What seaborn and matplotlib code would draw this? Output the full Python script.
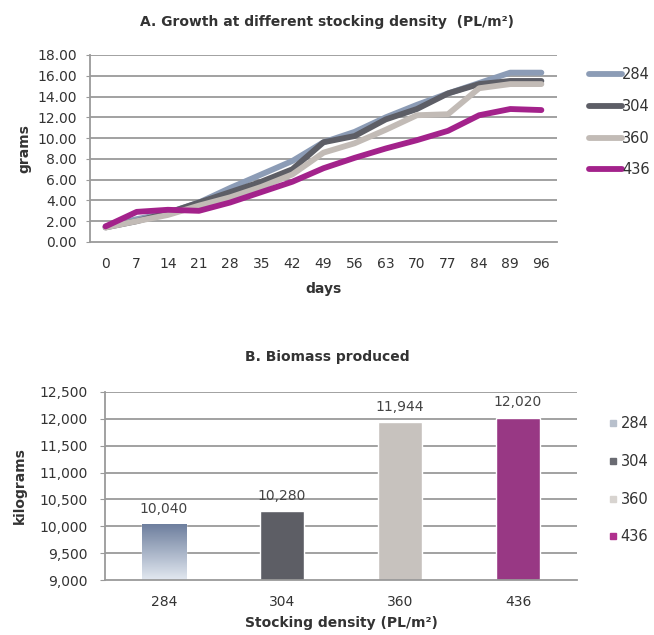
import matplotlib
matplotlib.use('Agg')
import matplotlib.pyplot as plt
from matplotlib.lines import Line2D
from matplotlib.ticker import FuncFormatter, FixedLocator
import numpy as np
import pandas as pd
import seaborn as sns

# дані з графіка (оцінені по картинці)
days = ['0', '7', '14', '21', '28', '35', '42', '49', '56', '63', '70', '77', '84', '89', '96']
g284 = [1.5, 2.2, 2.8, 3.8, 5.2, 6.5, 7.8, 9.6, 10.6, 12.0, 13.2, 14.3, 15.3, 16.3, 16.3]
g304 = [1.4, 2.0, 2.8, 3.8, 4.8, 5.8, 7.0, 9.6, 10.2, 11.8, 12.8, 14.3, 15.2, 15.5, 15.5]
g360 = [1.4, 2.0, 2.6, 3.5, 4.3, 5.3, 6.5, 8.6, 9.5, 10.8, 12.2, 12.3, 14.8, 15.2, 15.2]
g436 = [1.5, 2.9, 3.1, 3.0, 3.8, 4.8, 5.8, 7.1, 8.1, 9.0, 9.8, 10.7, 12.2, 12.8, 12.7]

densities = ['284', '304', '360', '436']
biomass = [10040, 10280, 11944, 12020]

line_colors = ['#8c9cb6', '#5d5e66', '#c2bbb6', '#a3228b']
bar_colors = ['#7c8ca8', '#5c5d66', '#c9c2bc', '#a8288e']
legend_sq = ['#b8c0cc', '#6a6b72', '#d8d4d0', '#b0308e']

sns.set_style('white')
plt.rcParams['font.family'] = ['DejaVu Sans']
plt.rcParams['text.color'] = '#333333'
plt.rcParams['axes.labelcolor'] = '#333333'
plt.rcParams['xtick.color'] = '#333333'
plt.rcParams['ytick.color'] = '#333333'

grid_c = '#9a9a9a'

df = pd.DataFrame({
    'day': days * 4,
    'grams': g284 + g304 + g360 + g436,
    'density': sum([[d] * len(days) for d in densities], []),
})

fig = plt.figure(figsize=(6.54, 6.35), dpi=100)

# --- A. ріст ---
ax1 = fig.add_axes([0.1376, 0.6189, 0.714, 0.2945])
sns.lineplot(data=df, x='day', y='grams', hue='density', hue_order=densities,
             palette=line_colors, linewidth=4.2, ax=ax1, legend=False, sort=False)
ax1.set_xlim(-0.5, 14.5)
ax1.set_ylim(0, 18)
ax1.set_yticks(np.arange(0, 18.1, 2))
ax1.yaxis.set_major_formatter(FuncFormatter(lambda v, p: f'{v:.2f}'))
for y in np.arange(2, 18.1, 2):
    ax1.axhline(y, color=grid_c, lw=1.3, zorder=0)
for s in ['top', 'right']:
    ax1.spines[s].set_visible(False)
for s in ['left', 'bottom']:
    ax1.spines[s].set_color(grid_c)
    ax1.spines[s].set_linewidth(1.3)
ax1.xaxis.set_minor_locator(FixedLocator(np.arange(-0.5, 14.6, 1)))
ax1.tick_params(axis='x', which='major', length=0, pad=11, labelsize=10)
ax1.tick_params(axis='x', which='minor', length=3, color=grid_c, width=1)
ax1.tick_params(axis='y', length=3, color=grid_c, pad=6.5, labelsize=10, left=True)
ax1.set_xlabel('days', fontsize=10, fontweight='bold', labelpad=8)
ax1.set_ylabel('grams', fontsize=10, fontweight='bold', labelpad=4)
h1 = [Line2D([0], [0], color=c, lw=4.2) for c in line_colors]
ax1.legend(h1, densities, loc='center left', bbox_to_anchor=(1.04, 0.64), frameon=False,
           handlelength=2.3, handletextpad=0.0, labelspacing=1.15, fontsize=10.5)
fig.text(0.5, 0.965, 'A. Growth at different stocking density  (PL/m²)',
         ha='center', va='center', fontsize=10, fontweight='bold')

# --- B. біомаса ---
ax2 = fig.add_axes([0.1606, 0.0866, 0.7217, 0.2961])
sns.barplot(x=densities, y=biomass, hue=densities, palette=bar_colors, width=0.38,
            legend=False, ax=ax2, zorder=2)
ax2.set_ylim(9000, 12500)

# градієнт для першого стовпця
p0 = ax2.patches[0]
x0, w0 = p0.get_x(), p0.get_width()
top0 = p0.get_y() + p0.get_height()
grad = np.linspace(0, 1, 100).reshape(-1, 1)
cmap0 = matplotlib.colors.LinearSegmentedColormap.from_list('g', ['#e2e8f0', '#6e7f9e'])
ax2.imshow(grad, extent=[x0, x0 + w0, 9000, top0], origin='lower', aspect='auto',
           cmap=cmap0, zorder=2)
p0.set_facecolor('none')
ax2.set_xlim(-0.5, 3.5)
ax2.set_ylim(9000, 12500)
ax2.set_yticks(np.arange(9000, 12501, 500))
ax2.yaxis.set_major_formatter(FuncFormatter(lambda v, p: f'{v:,.0f}'))
for y in np.arange(9500, 12501, 500):
    ax2.axhline(y, color=grid_c, lw=1.3, zorder=0)
for s in ['top', 'right']:
    ax2.spines[s].set_visible(False)
for s in ['left', 'bottom']:
    ax2.spines[s].set_color(grid_c)
    ax2.spines[s].set_linewidth(1.3)

for i, v in enumerate(biomass):
    ax2.annotate(f'{v:,}', (i, v), xytext=(0, 6), textcoords='offset points',
                 ha='center', va='bottom', fontsize=10, color='#444444')

ax2.xaxis.set_minor_locator(FixedLocator(np.arange(-0.5, 3.6, 1)))
ax2.tick_params(axis='x', which='major', length=0, pad=10.5, labelsize=10)
ax2.tick_params(axis='x', which='minor', length=3, color=grid_c, width=1)
ax2.tick_params(axis='y', length=3.5, color=grid_c, pad=9, labelsize=10, left=True)
ax2.set_xlabel('Stocking density (PL/m²)', fontsize=10, fontweight='bold', labelpad=5)
ax2.set_ylabel('kilograms', fontsize=10, fontweight='bold', labelpad=9)
h2 = [Line2D([0], [0], color=c, lw=0, marker='s', markersize=5) for c in legend_sq]
ax2.legend(h2, densities, loc='center left', bbox_to_anchor=(1.04, 0.53), frameon=False,
           handlelength=0.6, handletextpad=0.2, labelspacing=1.55, fontsize=10.5)
fig.text(0.5, 0.438, 'B. Biomass produced', ha='center', va='center',
         fontsize=10, fontweight='bold')

fig.savefig('out.png', dpi=100)
